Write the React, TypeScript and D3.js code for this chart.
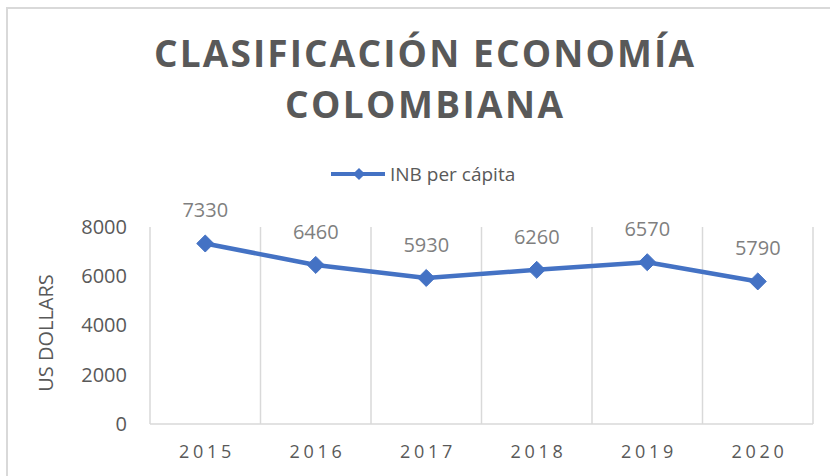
import React, { useEffect, useRef } from 'react';
import * as d3 from 'd3';

const years = ['2015', '2016', '2017', '2018', '2019', '2020'];
const inbPerCapita = [7330, 6460, 5930, 6260, 6570, 5790];
const yTicks = [0, 2000, 4000, 6000, 8000];
const titleLines = ['CLASIFICACIÓN ECONOMÍA', 'COLOMBIANA'];
const seriesName = 'INB per cápita';
const yAxisTitle = 'US DOLLARS';

const FONT = '"Open Sans", "Liberation Sans", sans-serif';
const BLUE = '#4472C4';

const App = () => {
  const chartRef = useRef<SVGSVGElement>(null);

  useEffect(() => {
    const svg = d3.select(chartRef.current);
    svg.selectAll('*').remove();

    const width = 830;
    const height = 476;
    const plot = { left: 150, right: 813, top: 227, bottom: 424 };

    svg.attr('width', width).attr('height', height);

    // outer chart border (runs off the right/bottom edge)
    svg.append('rect')
      .attr('x', 7)
      .attr('y', 8)
      .attr('width', 860)
      .attr('height', 500)
      .style('fill', '#fff')
      .style('stroke', '#d9d9d9')
      .style('stroke-width', 2);

    // title, letter-spaced to the reference width
    const titleWidths = [540, 278];
    svg.selectAll('.title-line')
      .data(titleLines)
      .enter()
      .append('text')
      .attr('class', 'title-line')
      .attr('x', 424)
      .attr('y', (d, i) => 67 + i * 51)
      .attr('text-anchor', 'middle')
      .attr('textLength', (d, i) => titleWidths[i])
      .attr('lengthAdjust', 'spacing')
      .style('font-family', FONT)
      .style('font-weight', 'bold')
      .style('font-size', '37px')
      .style('fill', '#595959')
      .text(d => d);

    const xScale = d3.scaleBand()
      .domain(years)
      .range([plot.left, plot.right]);

    const yScale = d3.scaleLinear()
      .domain([0, 8000])
      .range([plot.bottom, plot.top]);

    // vertical gridlines at category boundaries
    const boundaries = years.map(y => xScale(y)!).concat([plot.right]);
    svg.selectAll('.vgrid')
      .data(boundaries)
      .enter()
      .append('line')
      .attr('x1', d => d)
      .attr('x2', d => d)
      .attr('y1', yScale(8000))
      .attr('y2', yScale(0))
      .style('stroke', '#d9d9d9')
      .style('stroke-width', 1.5);

    // x axis line
    svg.append('line')
      .attr('x1', plot.left)
      .attr('x2', plot.right)
      .attr('y1', yScale(0))
      .attr('y2', yScale(0))
      .style('stroke', '#d9d9d9')
      .style('stroke-width', 1.5);

    // y axis labels
    const yAxis = svg.append('g')
      .attr('transform', `translate(${plot.left},0)`)
      .call(d3.axisLeft(yScale).tickValues(yTicks).tickSize(0).tickPadding(23).tickFormat(d3.format('d')));
    yAxis.select('.domain').remove();
    yAxis.selectAll('text')
      .style('font-family', FONT)
      .style('font-size', '20px')
      .style('fill', '#595959');

    // x axis labels
    const spacing = 3.7;
    svg.selectAll('.xlabel')
      .data(years)
      .enter()
      .append('text')
      .attr('x', d => xScale(d)! + xScale.bandwidth() / 2 + spacing / 2)
      .attr('y', 458)
      .attr('text-anchor', 'middle')
      .style('font-family', FONT)
      .style('font-size', '18px')
      .style('letter-spacing', `${spacing}px`)
      .style('fill', '#595959')
      .text(d => d);

    // y axis title
    svg.append('text')
      .attr('transform', 'translate(53,333) rotate(-90)')
      .attr('text-anchor', 'middle')
      .style('font-family', FONT)
      .style('font-size', '20px')
      .style('fill', '#595959')
      .text(yAxisTitle);

    const points = years.map((y, i) => ({ year: y, value: inbPerCapita[i] }));
    const cx = (d: { year: string }) => xScale(d.year)! + xScale.bandwidth() / 2;

    const line = d3.line<{ year: string; value: number }>()
      .x(cx)
      .y(d => yScale(d.value));

    svg.append('path')
      .datum(points)
      .attr('d', line)
      .style('fill', 'none')
      .style('stroke', BLUE)
      .style('stroke-width', 4.5)
      .style('stroke-linejoin', 'round');

    const diamond = d3.symbol().type(d3.symbolDiamond2).size(185);
    svg.selectAll('.marker')
      .data(points)
      .enter()
      .append('path')
      .attr('d', diamond)
      .attr('transform', d => `translate(${cx(d)},${yScale(d.value)})`)
      .style('fill', BLUE)
      .style('stroke', BLUE);

    // data labels
    svg.selectAll('.dlabel')
      .data(points)
      .enter()
      .append('text')
      .attr('x', cx)
      .attr('y', d => yScale(d.value) - 26)
      .attr('text-anchor', 'middle')
      .style('font-family', FONT)
      .style('font-size', '20px')
      .style('fill', '#7f7f7f')
      .text(d => d.value);

    // legend
    const legend = svg.append('g').attr('transform', 'translate(331,174)');
    legend.append('line')
      .attr('x1', 0)
      .attr('x2', 54)
      .style('stroke', BLUE)
      .style('stroke-width', 4);
    legend.append('path')
      .attr('d', d3.symbol().type(d3.symbolDiamond2).size(95)())
      .attr('transform', 'translate(28,0)')
      .style('fill', BLUE);
    legend.append('text')
      .attr('x', 59)
      .attr('y', 7)
      .style('font-family', FONT)
      .style('font-size', '19px')
      .style('fill', '#595959')
      .text(seriesName);
  }, []);

  return (
    <svg ref={chartRef} style={{ position: 'absolute', left: 0, top: 0 }}></svg>
  );
};

export default App;
